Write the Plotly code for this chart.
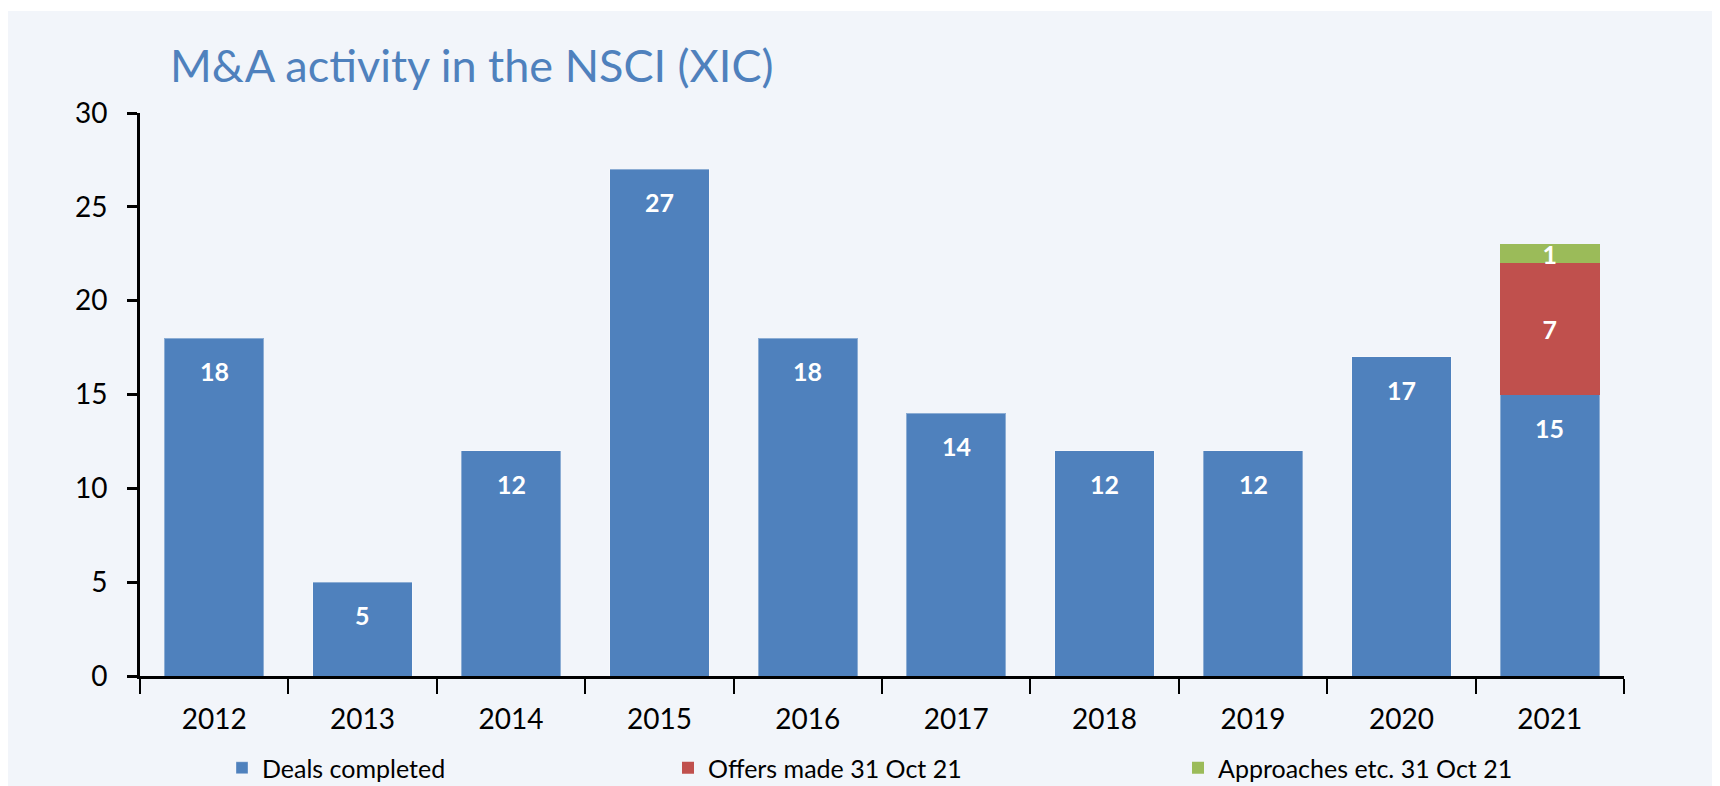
import plotly.graph_objects as go

years = ["2012", "2013", "2014", "2015", "2016", "2017", "2018", "2019", "2020", "2021"]
deals_completed = [18, 5, 12, 27, 18, 14, 12, 12, 17, 15]
offers_made = [None, None, None, None, None, None, None, None, None, 7]
approaches = [None, None, None, None, None, None, None, None, None, 1]

BLUE = "#4F81BD"
RED = "#C0504D"
GREEN = "#9BBB59"
FONT = "Lato"
LABEL_FONT = dict(family=FONT, size=25, color="white", weight="bold")

fig = go.Figure()
fig.add_trace(go.Bar(
    x=years, y=deals_completed, name="Deals completed",
    marker=dict(color=BLUE, line=dict(color="rgba(255,255,255,0.35)", width=1)),
    legend="legend",
))
fig.add_trace(go.Bar(
    x=years, y=offers_made, name="Offers made 31 Oct 21",
    marker=dict(color=RED, line=dict(width=0)),
    text=[("" if v is None else str(v)) for v in offers_made],
    textposition="inside", insidetextanchor="middle", constraintext="none",
    textangle=0, textfont=LABEL_FONT,
    legend="legend2",
))
fig.add_trace(go.Bar(
    x=years, y=approaches, name="Approaches etc. 31 Oct 21",
    marker=dict(color=GREEN, line=dict(width=0)),
    text=[("" if v is None else str(v)) for v in approaches],
    textposition="inside", insidetextanchor="middle", constraintext="none",
    textangle=0, textfont=LABEL_FONT,
    legend="legend3",
))

# labels of the completed deals: category index on the category axis
for i, v in enumerate(deals_completed):
    fig.add_annotation(x=i, y=v, xref="x", yref="y", text=f"<b>{v}</b>",
                       showarrow=False, yshift=-33, yanchor="middle",
                       font=dict(family=FONT, size=25, color="white"))

# page body adds an 8px offset; layout numbers are in figure pixels
W, H = 1720, 786
L, T = 132, 105
R = W - 1616
B = H - 668
pw, ph = W - L - R, H - T - B

fig.add_shape(type="rect", xref="paper", yref="paper", layer="below",
              x0=(-5 - L) / pw, x1=(W + 5 - L) / pw,
              y0=(H - B - (H + 5)) / ph, y1=(H - B - 3) / ph,
              fillcolor="#F2F5FA", line=dict(width=0))

legend_common = dict(orientation="h", xanchor="left", yanchor="middle",
                     xref="container", yref="container", bgcolor="rgba(0,0,0,0)",
                     font=dict(family=FONT, size=25, color="#000"))

fig.update_layout(
    width=W, height=H,
    margin=dict(l=L, r=R, t=T, b=B, autoexpand=False),
    paper_bgcolor="white", plot_bgcolor="rgba(0,0,0,0)",
    barmode="stack", bargap=0.33,
    title=dict(text="M&A activity in the NSCI (XIC)", x=162 / W, xanchor="left",
               y=1 - 58 / H, yanchor="middle",
               font=dict(family=FONT, size=45, color="#4F81BD")),
    xaxis=dict(type="category", range=[-0.5, 9.5], showline=True, linecolor="black",
               linewidth=3, ticks="outside", tickson="boundaries", ticklen=15,
               tickwidth=2, tickcolor="black", ticklabelstandoff=16, tickangle=0,
               tickfont=dict(family=FONT, size=28, color="black"),
               showgrid=False, zeroline=False, automargin=False),
    yaxis=dict(range=[0, 30], dtick=5, showline=True, linecolor="black",
               linewidth=3, ticks="outside", ticklen=10, tickwidth=3,
               tickcolor="black", ticklabelstandoff=14,
               tickfont=dict(family=FONT, size=28, color="black"),
               showgrid=False, zeroline=False, automargin=False),
    legend=dict(x=214 / W, y=26 / H, **legend_common),
    legend2=dict(x=660 / W, y=26 / H, **legend_common),
    legend3=dict(x=1170 / W, y=26 / H, **legend_common),
    showlegend=True,
)

fig.write_html("out.html")
